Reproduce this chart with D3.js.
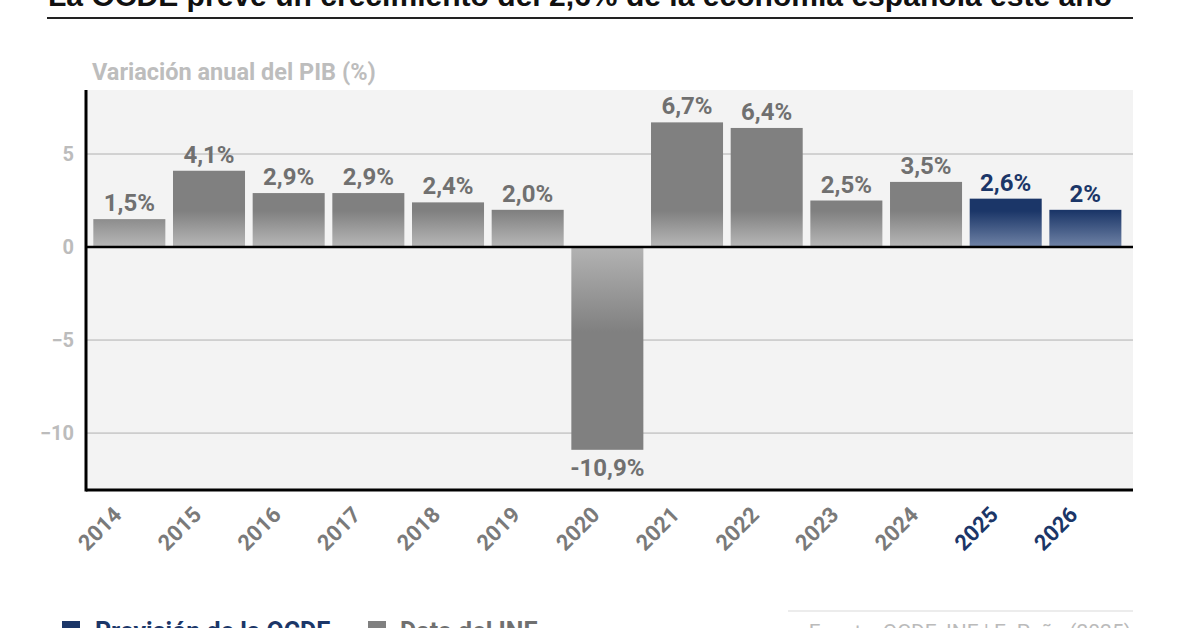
<html>
<head>
<meta charset="utf-8">
<title>PIB España</title>
<script src="https://cdnjs.cloudflare.com/ajax/libs/d3/7.8.5/d3.min.js"></script>
<style>
  body { margin: 0; background: #ffffff; }
  text { font-family: Roboto, "Noto Sans", sans-serif; font-weight: 700; }
</style>
</head>
<body>
<script>
  // datos
  var years = ["2014", "2015", "2016", "2017", "2018", "2019", "2020", "2021", "2022", "2023", "2024", "2025", "2026"];
  var values = [1.5, 4.1, 2.9, 2.9, 2.4, 2.0, -10.9, 6.7, 6.4, 2.5, 3.5, 2.6, 2.0];
  var labels = ["1,5%", "4,1%", "2,9%", "2,9%", "2,4%", "2,0%", "-10,9%", "6,7%", "6,4%", "2,5%", "3,5%", "2,6%", "2%"];
  var forecast = ["2025", "2026"];
  var yTicks = [-10, -5, 0, 5];
  var tickLabels = ["\u221210", "\u22125", "0", "5"];

  var width = 1200, height = 628;
  var plotLeft = 86, plotRight = 1133, plotTop = 90, plotBottom = 490;
  var gray = "#808080", navy = "#1b3668";

  var svg = d3.select("body").append("svg")
    .attr("width", width)
    .attr("height", height);

  var x = d3.scaleBand()
    .domain(years)
    .range([89.5, 1125.2])
    .paddingInner(0.096)
    .paddingOuter(0.048);

  var y = d3.scaleLinear()
    .domain([-13.06, 8.44])
    .range([plotBottom, plotTop]);

  var y0 = y(0);

  // gradients
  var defs = svg.append("defs");
  function grad(id, color, light, from, to) {
    var g = defs.append("linearGradient")
      .attr("id", id)
      .attr("gradientUnits", "userSpaceOnUse")
      .attr("x1", 0).attr("x2", 0)
      .attr("y1", from).attr("y2", to);
    g.append("stop").attr("offset", "0%").attr("stop-color", color);
    g.append("stop").attr("offset", "100%").attr("stop-color", light);
  }
  grad("gPos", gray, "#b8b8b8", y0 - 36, y0);
  grad("nPos", navy, "#7083a6", y0 - 36, y0);
  grad("gNeg", gray, "#b3b3b3", y0 + 85, y0);

  // title (cut at the top)
  svg.append("text")
    .attr("x", 48)
    .attr("y", 6)
    .attr("textLength", 1064)
    .attr("lengthAdjust", "spacingAndGlyphs")
    .style("font-family", "'Liberation Sans', Arial, sans-serif")
    .style("font-size", "29px")
    .attr("fill", "#111")
    .text("La OCDE prevé un crecimiento del 2,6% de la economía española este año");

  svg.append("line")
    .attr("x1", 47).attr("x2", 1133)
    .attr("y1", 18).attr("y2", 18)
    .attr("stroke", "#222")
    .attr("stroke-width", 2);

  svg.append("text")
    .attr("x", 92)
    .attr("y", 80)
    .style("font-size", "23.5px")
    .attr("fill", "#bdbdbd")
    .text("Variación anual del PIB (%)");

  // plot background
  svg.append("rect")
    .attr("x", plotLeft).attr("y", plotTop)
    .attr("width", plotRight - plotLeft)
    .attr("height", plotBottom - plotTop)
    .attr("fill", "#f3f3f3");

  // grid lines
  svg.append("g")
    .selectAll("line")
    .data(yTicks.filter(function(d) { return d !== 0; }))
    .enter()
    .append("line")
    .attr("x1", plotLeft).attr("x2", plotRight)
    .attr("y1", function(d) { return y(d); })
    .attr("y2", function(d) { return y(d); })
    .attr("stroke", "#b0b0b0")
    .attr("stroke-width", 1);

  // y tick labels
  svg.append("g")
    .selectAll("text")
    .data(yTicks)
    .enter()
    .append("text")
    .attr("x", 74)
    .attr("y", function(d) { return y(d) + 7; })
    .attr("text-anchor", "end")
    .style("font-size", "20px")
    .attr("fill", "#bcbcbc")
    .text(function(d, i) { return tickLabels[i]; });

  // bars
  svg.append("g")
    .selectAll("rect")
    .data(years)
    .enter()
    .append("rect")
    .attr("x", function(d) { return x(d); })
    .attr("width", x.bandwidth())
    .attr("y", function(d, i) { return values[i] >= 0 ? y(values[i]) : y0; })
    .attr("height", function(d, i) { return Math.abs(y(values[i]) - y0); })
    .attr("fill", function(d, i) {
      if (forecast.indexOf(d) >= 0) return "url(#nPos)";
      return values[i] >= 0 ? "url(#gPos)" : "url(#gNeg)";
    });

  // value labels
  svg.append("g")
    .selectAll("text")
    .data(years)
    .enter()
    .append("text")
    .attr("x", function(d) { return x(d) + x.bandwidth() / 2; })
    .attr("y", function(d, i) { return values[i] >= 0 ? y(values[i]) - 8 : y(values[i]) + 26; })
    .attr("text-anchor", "middle")
    .style("font-size", "24px")
    .attr("fill", function(d) { return forecast.indexOf(d) >= 0 ? navy : "#707070"; })
    .text(function(d, i) { return labels[i]; });

  // axis lines
  svg.append("line")
    .attr("x1", plotLeft).attr("x2", plotRight)
    .attr("y1", y0).attr("y2", y0)
    .attr("stroke", "#000").attr("stroke-width", 2.5);
  svg.append("line")
    .attr("x1", plotLeft).attr("x2", plotRight)
    .attr("y1", plotBottom).attr("y2", plotBottom)
    .attr("stroke", "#000").attr("stroke-width", 3);
  svg.append("line")
    .attr("x1", plotLeft).attr("x2", plotLeft)
    .attr("y1", plotTop).attr("y2", plotBottom + 1.5)
    .attr("stroke", "#000").attr("stroke-width", 3);

  // year labels
  svg.append("g")
    .selectAll("text")
    .data(years)
    .enter()
    .append("text")
    .attr("transform", function(d) {
      return "translate(" + (x(d) + x.bandwidth() / 2 - 18) + "," + 504.5 + ") rotate(-45)";
    })
    .attr("text-anchor", "end")
    .attr("dy", "0.75em")
    .style("font-size", "22px")
    .attr("fill", function(d) { return forecast.indexOf(d) >= 0 ? navy : "#7a7a7a"; })
    .text(function(d) { return d; });

  // legend (cut at the bottom)
  svg.append("rect").attr("x", 62).attr("y", 621).attr("width", 18).attr("height", 18).attr("fill", navy);
  svg.append("text").attr("x", 95).attr("y", 640).style("font-size", "25px").attr("fill", navy).text("Previsión de la OCDE");
  svg.append("rect").attr("x", 368).attr("y", 621).attr("width", 18).attr("height", 18).attr("fill", gray);
  svg.append("text").attr("x", 400).attr("y", 640).style("font-size", "25px").attr("fill", "#707070").text("Dato del INE");

  svg.append("line")
    .attr("x1", 788).attr("x2", 1133)
    .attr("y1", 611).attr("y2", 611)
    .attr("stroke", "#e6e6e6").attr("stroke-width", 1.5);
  svg.append("text")
    .attr("x", 1131).attr("y", 639)
    .attr("text-anchor", "end")
    .style("font-size", "21px")
    .style("font-weight", 400)
    .attr("fill", "#bbbbbb")
    .text("Fuente: OCDE, INE | E. Peña (2025)");
</script>
</body>
</html>
